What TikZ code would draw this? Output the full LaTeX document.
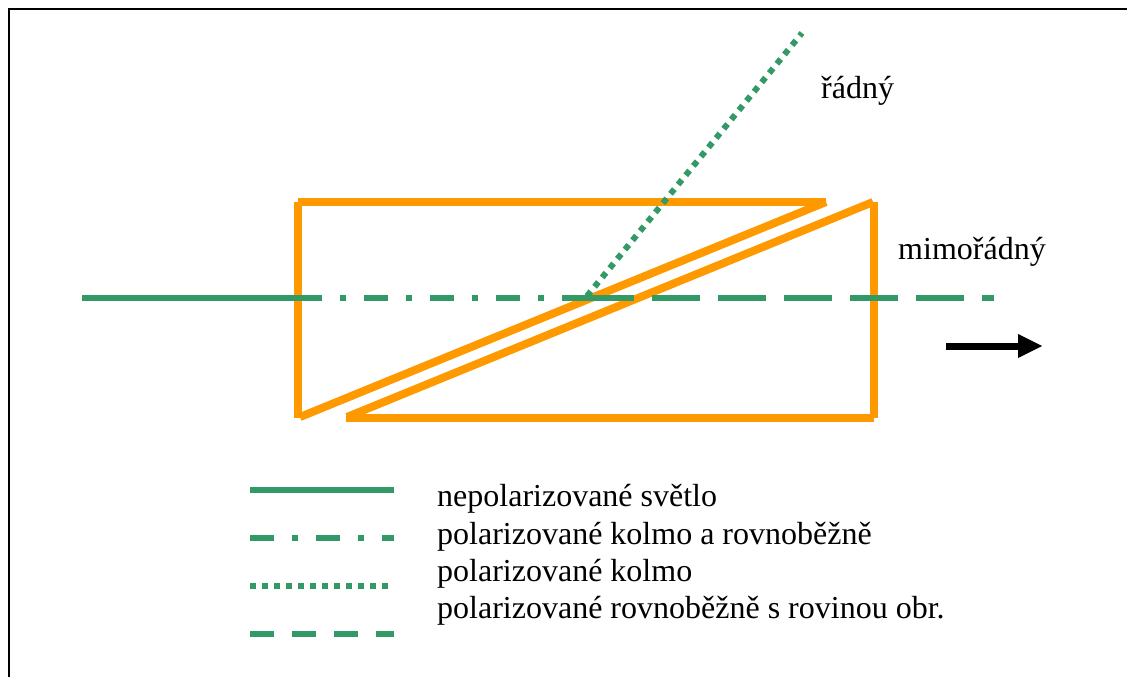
\documentclass[tikz,border=0pt]{standalone}
\usepackage{fontspec}
\setmainfont{Liberation Serif}
\definecolor{prismorange}{RGB}{255,153,0}
\definecolor{raygreen}{RGB}{51,153,102}
\tikzset{
  prism/.style={draw=prismorange,line width=8pt,line cap=butt,line join=miter},
  ray/.style={draw=raygreen,line width=6pt,line cap=butt},
  raydashdot/.style={ray,dash pattern=on 24pt off 18pt on 6pt off 18pt},
  raydotted/.style={ray,dash pattern=on 6pt off 6pt},
  raydashed/.style={ray,dash pattern=on 48pt off 18pt},
  legdashdot/.style={ray,dash pattern=on 24pt off 18pt on 6pt off 18pt},
  legdashed/.style={ray,dash pattern=on 24pt off 18pt},
  label/.style={font=\fontsize{32}{32}\selectfont,anchor=base west,inner sep=0pt,text=black},
  frameline/.style={draw=black,line width=2pt}
}
\begin{document}
\begin{tikzpicture}[x=1pt,y=-1pt]
\useasboundingbox (0,0) rectangle (1127,677);
% frame
\coordinate (fbl) at (9,678);
\coordinate (ftl) at (9,9);
\coordinate (ftr) at (1127,9);
\draw[frameline] (fbl) -- (ftl) -- (ftr);
% prism
\coordinate (al) at (298,418);
\coordinate (b) at (298,202);
\coordinate (c) at (826,202);
\coordinate (d) at (300,417);
\coordinate (e) at (874,202);
\coordinate (f) at (874,418);
\coordinate (g) at (346,418);
\coordinate (h) at (347,417);
\coordinate (i) at (873,202);
\draw[prism] (al) -- (b);
\draw[prism] (b) -- (c);
\draw[prism] (c) -- (d);
\draw[prism] (i) -- (h);
\draw[prism] (e) -- (f);
\draw[prism] (f) -- (g);
% rays
\coordinate (r0) at (82,298);
\coordinate (r1) at (298,298);
\coordinate (r2) at (586,298);
\coordinate (r3) at (994,298);
\coordinate (r4) at (587,296);
\coordinate (r5) at (802,33);
\draw[ray] (r0) -- (r1);
\draw[raydashdot] (r1) -- (r2);
\draw[raydashed] (r2) -- (r3);
\draw[raydotted] (r4) -- (r5);
% arrow
\coordinate (aw) at (946,346);
\coordinate (ae) at (1018,346);
\coordinate (at) at (1042,346);
\draw[black,line width=7pt] (aw) -- (ae);
\fill[black] (1018,334) -- (at) -- (1018,358) -- cycle;
% labels
\node[label] (radny) at (821,99) {řádný};
\node[label] (mimo) at (898,259) {mimořádný};
\node[label] (t1) at (437,506) {nepolarizované světlo};
\node[label] (t2) at (437,544) {polarizované kolmo a rovnoběžně};
\node[label] (t3) at (437,581) {polarizované kolmo};
\node[label] (t4) at (437,618) {polarizované rovnoběžně s rovinou obr.};
% legend
\coordinate (l1a) at (250,490);\coordinate (l1b) at (394,490);
\coordinate (l2a) at (250,538);\coordinate (l2b) at (394,538);
\coordinate (l3a) at (250,586);\coordinate (l3b) at (388,586);
\coordinate (l4a) at (250,634);\coordinate (l4b) at (394,634);
\draw[ray] (l1a) -- (l1b);
\draw[legdashdot] (l2a) -- (l2b);
\draw[raydotted] (l3a) -- (l3b);
\draw[legdashed] (l4a) -- (l4b);
\end{tikzpicture}
\end{document}
